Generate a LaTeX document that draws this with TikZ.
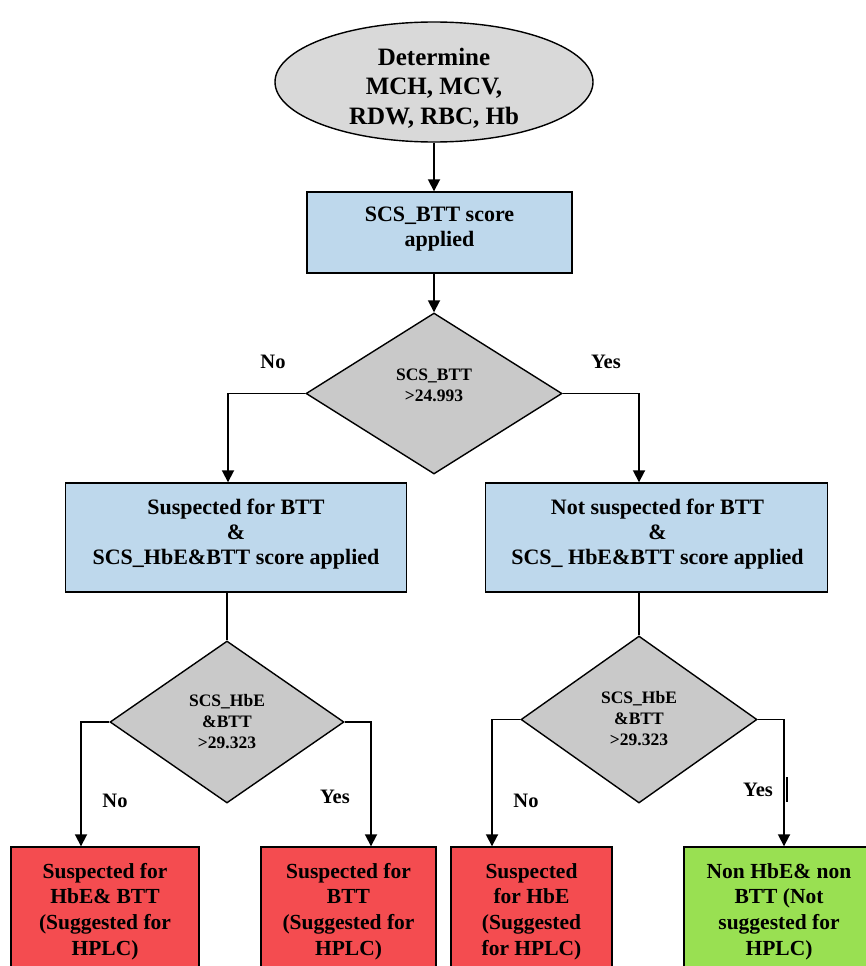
\documentclass[tikz,border=0pt]{standalone}
\usepackage{fontspec}
\setmainfont{Liberation Serif}
\usetikzlibrary{shapes.geometric,arrows.meta}
\definecolor{ellgray}{RGB}{217,217,217}
\definecolor{diagray}{RGB}{201,201,201}
\definecolor{boxblue}{RGB}{190,216,236}
\definecolor{boxred}{RGB}{244,76,80}
\definecolor{boxgreen}{RGB}{153,224,82}
\begin{document}
\begin{tikzpicture}[x=1pt,y=-1pt,
  conn/.style={line width=1.8pt},
  arr/.style={conn,-{Triangle[length=12pt,width=12pt]}},
  ellbox/.style={ellipse,draw=black,line width=1.4pt,fill=ellgray,inner sep=0pt,
     minimum width=318pt,minimum height=120pt},
  bluebox/.style={rectangle,draw=black,line width=1.4pt,fill=boxblue,inner sep=0pt},
  redbox/.style={rectangle,draw=black,line width=1.4pt,fill=boxred,inner sep=0pt,minimum height=123pt},
  greenbox/.style={redbox,fill=boxgreen},
  decision/.style={diamond,draw=black,line width=1.4pt,fill=diagray,inner sep=0pt},
  txt/.style={inner sep=0pt,align=center},
  bigtxt/.style={txt,font=\fontsize{22}{25}\selectfont\bfseries},
  elltxt/.style={txt,font=\fontsize{25}{29.5}\selectfont\bfseries},
  bottxt/.style={txt,font=\fontsize{21.5}{25.7}\selectfont\bfseries},
  dectxt/.style={txt,font=\fontsize{17.5}{21}\selectfont\bfseries},
  lbl/.style={font=\fontsize{20.5}{24}\selectfont\bfseries,inner sep=0pt}
]
\useasboundingbox (0,0) rectangle (866,966);

% shapes
\node[ellbox] (ell) at (434,82) {};
\node[bluebox,minimum width=265pt,minimum height=81pt] (b1) at (439.5,232.5) {};
\node[decision,minimum width=256pt,minimum height=161pt] (d1) at (434,393.5) {};
\node[bluebox,minimum width=341pt,minimum height=109pt] (b2l) at (236,537.5) {};
\node[bluebox,minimum width=342pt,minimum height=109pt] (b2r) at (656.5,537.5) {};
\node[decision,minimum width=234pt,minimum height=162pt] (d2l) at (227,722) {};
\node[decision,minimum width=236pt,minimum height=167pt] (d2r) at (639,719.5) {};
\node[redbox,minimum width=188pt] (r1) at (105,908.5) {};
\node[redbox,minimum width=175pt] (r2) at (348.5,908.5) {};
\node[redbox,minimum width=161pt] (r3) at (531.5,908.5) {};
\node[greenbox,minimum width=190pt] (g1) at (779,908.5) {};

% texts
\node[elltxt] (tell) at (434,88) {Determine\\MCH, MCV,\\RDW, RBC, Hb};
\node[bigtxt] (tb1) at (439.5,229.5) {SCS\_BTT score\\applied};
\node[dectxt] (td1) at (434,385) {SCS\_BTT\\>24.993};
\node[bigtxt] (tb2l) at (236,534.5) {Suspected for BTT\\\&\\SCS\_HbE\&BTT score applied};
\node[bigtxt] (tb2r) at (657.5,534.5) {Not suspected for BTT\\\&\\SCS\_ HbE\&BTT score applied};
\node[dectxt] (td2l) at (227,722) {SCS\_HbE\\\&BTT\\>29.323};
\node[dectxt] (td2r) at (639,719) {SCS\_HbE\\\&BTT\\>29.323};
\node[bottxt] (tr1) at (105,911.5) {Suspected for\\HbE\& BTT\\(Suggested for\\HPLC)};
\node[bottxt] (tr2) at (348.5,911.5) {Suspected for\\BTT\\(Suggested for\\HPLC)};
\node[bottxt] (tr3) at (531.5,911.5) {Suspected\\for HbE\\(Suggested\\for HPLC)};
\node[bottxt] (tg1) at (779,911.5) {Non HbE\& non\\BTT (Not\\suggested for\\HPLC)};

% connectors
\draw[arr] (ell.south) -- (ell.south |- b1.north);
\draw[arr] (d1.north |- b1.south) -- (d1.north);
\draw[arr] (d1.west) -| ([xshift=-8pt]b2l.north);
\draw[arr] (d1.east) -| ([xshift=-17.5pt]b2r.north);
\draw[conn] (d2l.north |- b2l.south) -- (d2l.north);
\draw[conn] (d2r.north |- b2r.south) -- (d2r.north);
\draw[arr] (d2l.west) -| ([xshift=-24pt]r1.north);
\draw[arr] (d2l.east) -| ([xshift=22.5pt]r2.north);
\draw[arr] (d2r.west) -| ([xshift=-39.5pt]r3.north);
\draw[arr] (d2r.east) -| ([xshift=5pt]g1.north);

% stray mark beside the last Yes
\draw[line width=1.6pt] (787,777) -- (787,802);

% labels
\node[lbl] (no1) at (273,362) {No};
\node[lbl] (yes1) at (606,362) {Yes};
\node[lbl] (no2) at (115,801) {No};
\node[lbl] (yes2) at (335,797) {Yes};
\node[lbl] (no3) at (526,801) {No};
\node[lbl] (yes3) at (758,790) {Yes};
\end{tikzpicture}
\end{document}
